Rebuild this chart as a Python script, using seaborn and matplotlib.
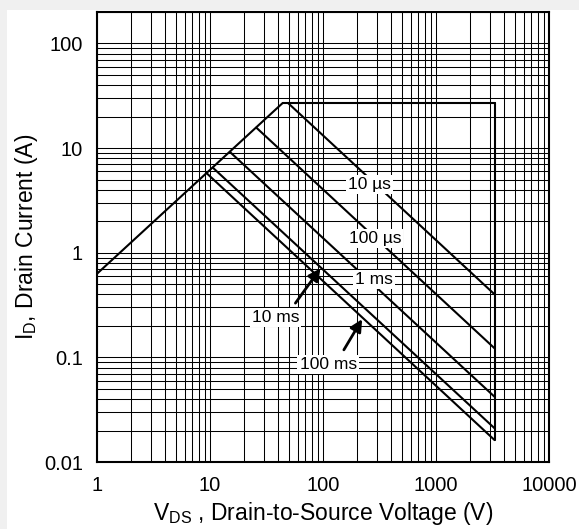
import matplotlib
matplotlib.use("Agg")
import matplotlib.pyplot as plt
import pandas as pd
import seaborn as sns
from matplotlib.patches import Rectangle
from matplotlib.ticker import FixedLocator, FixedFormatter, LogLocator, NullFormatter

# SOA outline: on-resistance edge, current ceiling, voltage ceiling
rds_v = [1.0, 44.0]
rds_i = [0.63, 27.0]
imax_v = [44.0, 3300.0]
imax_i = [27.0, 27.0]
vmax_v = [3300.0, 3300.0]
vmax_i = [27.0, 0.0162]

# single pulse lines
pulse_labels = ["10 µs", "100 µs", "1 ms", "10 ms", "100 ms"]
pulse_v_start = [49.0, 25.7, 15.0, 10.6, 9.35]
pulse_i_start = [27.0, 15.7, 9.2, 6.5, 5.75]
pulse_v_end = [3300.0, 3300.0, 3300.0, 3300.0, 3300.0]
pulse_i_end = [0.40, 0.122, 0.042, 0.021, 0.0162]

# label anchor points
label_v = [259, 289, 283, 38, 111]
label_i = [4.48, 1.38, 0.55, 0.239, 0.085]

# arrows for 10 ms and 100 ms
arrow_tail_v = [57, 153]
arrow_tail_i = [0.33, 0.118]
arrow_head_v = [95, 222]
arrow_head_i = [0.71, 0.232]

x_ticks = [1, 10, 100, 1000, 10000]
x_tick_labels = ["1", "10", "100", "1000", "10000"]
y_ticks = [0.01, 0.1, 1, 10, 100]
y_tick_labels = ["0.01", "0.1", "1", "10", "100"]

rows = []
for seg, (vs, is_) in enumerate([(rds_v, rds_i), (imax_v, imax_i), (vmax_v, vmax_i)]):
    for v, i in zip(vs, is_):
        rows.append({"seg": seg, "V": v, "I": i})
for k in range(len(pulse_labels)):
    rows.append({"seg": 10 + k, "V": pulse_v_start[k], "I": pulse_i_start[k]})
    rows.append({"seg": 10 + k, "V": pulse_v_end[k], "I": pulse_i_end[k]})
df = pd.DataFrame(rows)

sns.set_style("white")
plt.rcParams["font.family"] = ["Liberation Sans", "DejaVu Sans"]
plt.rcParams["mathtext.fontset"] = "custom"

fig = plt.figure(figsize=(5.79, 5.29), dpi=100, facecolor="#f0f0f0")
fig.add_artist(Rectangle((7 / 579, 0), 1, 1 - 10 / 529, transform=fig.transFigure,
                         facecolor="white", edgecolor="none", zorder=-10))
ax = fig.add_axes([97 / 579, 1 - 462 / 529, (549 - 97) / 579, (462 - 12) / 529])

sns.lineplot(data=df, x="V", y="I", units="seg", estimator=None, sort=False,
             color="black", lw=1.5, ax=ax, zorder=3)

ax.set_xscale("log")
ax.set_yscale("log")
ax.set_xlim(1, 10000)
ax.set_ylim(0.01, 200)

ax.xaxis.set_major_locator(FixedLocator(x_ticks))
ax.xaxis.set_major_formatter(FixedFormatter(x_tick_labels))
ax.yaxis.set_major_locator(FixedLocator(y_ticks))
ax.yaxis.set_major_formatter(FixedFormatter(y_tick_labels))
ax.xaxis.set_minor_locator(LogLocator(base=10, subs=range(2, 10), numticks=20))
ax.yaxis.set_minor_locator(LogLocator(base=10, subs=range(2, 10), numticks=20))
ax.xaxis.set_minor_formatter(NullFormatter())
ax.yaxis.set_minor_formatter(NullFormatter())
ax.grid(True, which="both", color="black", lw=0.75)
ax.tick_params(which="both", length=0, labelsize=14.5, colors="black")
ax.tick_params(axis="x", pad=10)
ax.tick_params(axis="y", pad=10)

for s in ax.spines.values():
    s.set_color("black")
    s.set_linewidth(1.5)
    s.set_zorder(4)

for k, lab in enumerate(pulse_labels):
    ax.text(label_v[k], label_i[k], lab, ha="center", va="center", fontsize=12.5,
            color="black", zorder=5,
            bbox=dict(facecolor="white", edgecolor="none", pad=1.5))

for k in range(len(arrow_tail_v)):
    ax.annotate("", xy=(arrow_head_v[k], arrow_head_i[k]),
                xytext=(arrow_tail_v[k], arrow_tail_i[k]),
                arrowprops=dict(arrowstyle="-|>", color="black", lw=2,
                                mutation_scale=18, shrinkA=0, shrinkB=0),
                zorder=6)

ax.set_xlabel(r"V$_{\mathregular{DS}}$ , Drain-to-Source Voltage (V)", fontsize=16.5,
              labelpad=4, color="black")
ax.set_ylabel(r"I$_{\mathregular{D}}$, Drain Current (A)", fontsize=16.5,
              labelpad=3, color="black")

fig.savefig("out.png", dpi=100, facecolor=fig.get_facecolor())
